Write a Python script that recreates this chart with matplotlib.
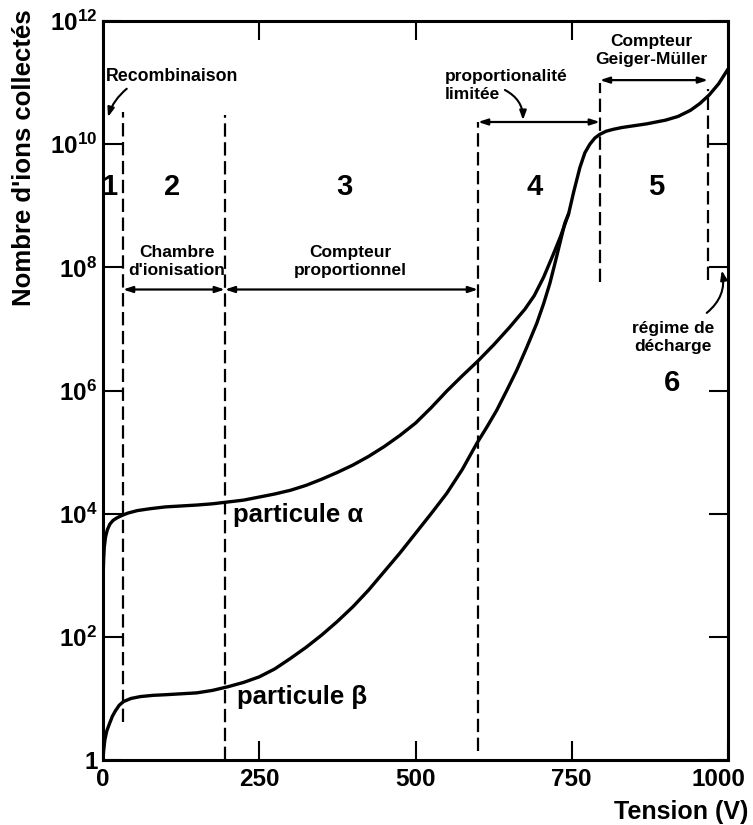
import numpy as np
import matplotlib
matplotlib.use('Agg')
import matplotlib.pyplot as plt
import matplotlib.transforms as mtransforms
from matplotlib.ticker import FixedLocator, NullLocator

plt.rcParams['font.family'] = ['Liberation Sans', 'DejaVu Sans']
plt.rcParams['font.weight'] = 'bold'
plt.rcParams['mathtext.fontset'] = 'custom'
plt.rcParams['mathtext.rm'] = 'Liberation Sans:bold'
plt.rcParams['mathtext.bf'] = 'Liberation Sans:bold'

alpha_v = [0, 1, 2, 4, 7, 11, 16, 22, 30, 40, 55, 75, 100, 125, 150, 175, 200,
           225, 250, 275, 300, 325, 350, 375, 400, 425, 450, 475, 500, 525,
           550, 575, 600, 625, 650, 675, 690, 705, 720, 732, 745, 753, 763,
           771, 779, 787, 795, 805, 816, 830, 850, 870, 900, 920, 940, 955,
           970, 985, 1000]
alpha_log = [2.9, 3.25, 3.45, 3.62, 3.74, 3.83, 3.89, 3.93, 3.97, 4.01, 4.05,
             4.08, 4.11, 4.125, 4.14, 4.16, 4.19, 4.22, 4.27, 4.32, 4.38, 4.46,
             4.56, 4.67, 4.79, 4.93, 5.09, 5.27, 5.47, 5.72, 5.99, 6.24, 6.48,
             6.74, 7.02, 7.32, 7.54, 7.84, 8.2, 8.5, 8.87, 9.22, 9.62, 9.86,
             10.0, 10.1, 10.16, 10.21, 10.24, 10.27, 10.3, 10.33, 10.39, 10.45,
             10.55, 10.66, 10.8, 10.98, 11.22]

beta_v = [0, 1, 3, 6, 10, 15, 20, 26, 33, 45, 60, 80, 100, 125, 150, 175, 200,
          225, 250, 275, 300, 325, 350, 375, 400, 425, 450, 475, 500, 525, 550,
          575, 598, 615, 630, 646, 662, 678, 694, 705, 715, 723, 731, 739, 745]
beta_log = [0.0, 0.15, 0.33, 0.47, 0.58, 0.71, 0.8, 0.89, 0.95, 1.0, 1.03, 1.05,
            1.06, 1.075, 1.09, 1.13, 1.19, 1.26, 1.35, 1.48, 1.65, 1.83, 2.03,
            2.25, 2.49, 2.76, 3.06, 3.36, 3.68, 4.0, 4.33, 4.72, 5.14, 5.42,
            5.68, 6.0, 6.33, 6.7, 7.09, 7.41, 7.74, 8.06, 8.39, 8.72, 8.87]

# region boundaries: tension, bottom and top exponent of the dashed line
bound_v = [32, 195, 600, 795, 968]
bound_lo = [0.62, 0.0, 0.15, 7.76, 7.8]
bound_hi = [10.52, 10.47, 10.36, 11.0, 10.9]

region_labels = ['1', '2', '3', '4', '5', '6']
region_v = [10, 111, 386, 691, 885, 910]
region_log = [9.3, 9.3, 9.3, 9.3, 9.3, 6.12]

xticks = [0, 250, 500, 750, 1000]
ytick_exp = [0, 2, 4, 6, 8, 10, 12]


def L(e):
    return 10.0 ** e


fig = plt.figure(figsize=(7.53, 8.25), dpi=100)
ax = fig.add_axes([103 / 753, 1 - 760 / 825, 625 / 753, 739 / 825])

ax.plot(alpha_v, [L(e) for e in alpha_log], color='black', lw=2.4,
        solid_capstyle='round', solid_joinstyle='round')
ax.plot(beta_v, [L(e) for e in beta_log], color='black', lw=2.4,
        solid_capstyle='round', solid_joinstyle='round')

for v, lo, hi in zip(bound_v, bound_lo, bound_hi):
    ax.plot([v, v], [L(lo), L(hi)], color='black', lw=1.6,
            linestyle=(0, (6, 2.5)))

for t, v, e in zip(region_labels, region_v, region_log):
    ax.text(v, L(e), t, fontsize=21, ha='center', va='center')

# double arrows between the boundaries
arr = dict(arrowstyle='<|-|>,head_length=0.55,head_width=0.18', color='black',
           lw=1.6, shrinkA=0, shrinkB=0)
for (a, b, e) in [(32, 195, 7.64), (195, 600, 7.64), (600, 795, 10.36),
                  (795, 968, 11.04)]:
    ax.annotate('', xy=(b, L(e)), xytext=(a, L(e)), arrowprops=arr)

ax.text(118, L(8.1), "Chambre\nd'ionisation", fontsize=12.5, ha='center',
        va='center', linespacing=1.25)
ax.text(395, L(8.1), "Compteur\nproportionnel", fontsize=12.5, ha='center',
        va='center', linespacing=1.25)
ax.text(547, L(10.96), "proportionalité\nlimitée", fontsize=12.5, ha='left',
        va='center', linespacing=1.25)
ax.text(878, L(11.52), "Compteur\nGeiger-Müller", fontsize=12.5, ha='center',
        va='center', linespacing=1.25)
ax.text(912, L(6.86), "régime de\ndécharge", fontsize=12.5, ha='center',
        va='center', linespacing=1.25)
ax.text(4, L(11.1), "Recombinaison", fontsize=12.8, ha='left', va='center')

curved = dict(arrowstyle='-|>,head_length=0.55,head_width=0.2', color='black',
              lw=1.5, shrinkA=0, shrinkB=0)
ax.annotate('', xy=(8, L(10.44)), xytext=(38, L(10.9)),
            arrowprops=dict(curved, connectionstyle='arc3,rad=0.15'))
ax.annotate('', xy=(672, L(10.39)), xytext=(643, L(10.88)),
            arrowprops=dict(curved, connectionstyle='arc3,rad=-0.3'))
ax.annotate('', xy=(990, L(7.95)), xytext=(966, L(7.26)),
            arrowprops=dict(curved, connectionstyle='arc3,rad=0.3'))

ax.text(208, L(3.98), 'particule α', fontsize=18.5, ha='left', va='center')
ax.text(214, L(1.02), 'particule β', fontsize=18.5, ha='left', va='center')

ax.set_xlim(0, 1000)
ax.set_yscale('log')
ax.set_ylim(1, 1e12)
ax.xaxis.set_major_locator(FixedLocator(xticks))
ax.set_xticklabels([str(x) for x in xticks])
ax.yaxis.set_major_locator(FixedLocator([L(e) for e in ytick_exp]))
ax.yaxis.set_minor_locator(NullLocator())
ax.set_yticklabels(['1'] + [r'$\mathrm{10^{%d}}$' % e for e in ytick_exp[1:]])
ax.tick_params(axis='both', which='major', direction='in', length=14,
               width=1.5, top=True, right=True, labelsize=17.5)
ax.tick_params(axis='x', pad=5.5)
ax.tick_params(axis='y', pad=4)
for sp in ax.spines.values():
    sp.set_linewidth(2.2)

# the "1000" label sits a little left of its tick, as in the original
last = ax.get_xticklabels()[-1]
last.set_transform(last.get_transform() +
                   mtransforms.ScaledTranslation(-0.1, 0, fig.dpi_scale_trans))

fig.text(24 / 753, 1 - 158 / 825, "Nombre d'ions collectés", rotation=90,
         fontsize=18.5, ha='center', va='center')
fig.text(748 / 753, 1 - 812 / 825, 'Tension (V)', fontsize=18,
         ha='right', va='center')

fig.savefig('out.png', dpi=100)
